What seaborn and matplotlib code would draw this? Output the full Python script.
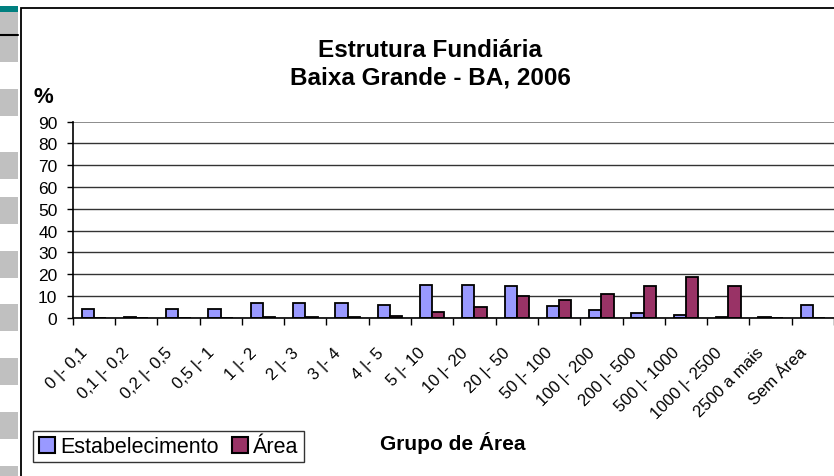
import pandas as pd
import matplotlib.pyplot as plt
import matplotlib.transforms as mtransforms
import seaborn as sns
from matplotlib.patches import Rectangle
from matplotlib.lines import Line2D


grupos = ['0 |- 0,1', '0,1 |- 0,2', '0,2 |- 0,5', '0,5 |- 1', '1 |- 2', '2 |- 3',
          '3 |- 4', '4 |- 5', '5 |- 10', '10 |- 20', '20 |- 50', '50 |- 100',
          '100 |- 200', '200 |- 500', '500 |- 1000', '1000 |- 2500',
          '2500 a mais', 'Sem Área']
estabelecimento = [3.9, 0.2, 3.9, 4.1, 6.6, 6.6, 6.6, 5.7, 14.8, 15.0, 14.7, 5.2,
                   3.7, 2.3, 1.2, 0.5, 0.1, 5.7]
area = [0.0, 0.0, 0.0, 0.0, 0.3, 0.3, 0.3, 0.8, 2.4, 4.7, 9.9, 8.1,
        11.0, 14.7, 18.8, 14.7, 0.0, 0.0]
series = ['Estabelecimento', 'Área']
cores = ['#9999FF', '#993366']
yticks = [0, 10, 20, 30, 40, 50, 60, 70, 80, 90]

df = pd.DataFrame({
    'grupo': grupos * 2,
    'pct': estabelecimento + area,
    'serie': [series[0]] * len(grupos) + [series[1]] * len(grupos),
})

sns.set_style('white')
plt.rcParams['font.family'] = ['Liberation Sans', 'DejaVu Sans']
plt.rcParams['text.color'] = 'black'
plt.rcParams['xtick.color'] = 'black'
plt.rcParams['ytick.color'] = 'black'

fig = plt.figure(figsize=(8.34, 4.77), dpi=100)
ax = fig.add_axes([72.7 / 834, 1 - 318.7 / 477, 1 - 72.7 / 834, (318.7 - 122.7) / 477])

sns.barplot(data=df, x='grupo', y='pct', hue='serie', hue_order=series,
            palette=cores, width=0.58, edgecolor='black', linewidth=1.3,
            saturation=1, ax=ax, legend=False)

ax.set_ylim(0, 90)
ax.set_xlim(-0.5, len(grupos) - 0.5)
ax.set_yticks(yticks)
ax.yaxis.grid(True, color='#333333', linewidth=1)
ax.set_axisbelow(True)
ax.get_ygridlines()[-1].set_color('#8c8c8c')
ax.get_ygridlines()[-1].set_linewidth(1.4)
for s in ['top', 'right']:
    ax.spines[s].set_visible(False)
for s in ['left', 'bottom']:
    ax.spines[s].set_color('black')
    ax.spines[s].set_linewidth(1.2)

ax.set_xlabel('')
ax.set_ylabel('')
ax.tick_params(axis='y', left=True, length=4, width=1, color='black',
               labelsize=12.5, pad=7, labelcolor='black')
ax.set_xticks(range(len(grupos)))
ax.set_xticklabels(grupos, rotation=45, ha='right', va='center',
                   rotation_mode='anchor', fontsize=12, color='black')
ax.tick_params(axis='x', bottom=False, length=0, pad=23)
ax.set_xticks([i - 0.5 for i in range(len(grupos) + 1)], minor=True)
ax.tick_params(axis='x', which='minor', bottom=True, length=5, width=1, color='black')
desloc = mtransforms.ScaledTranslation(-0.09, 0, fig.dpi_scale_trans)
for lab in ax.get_xticklabels():
    lab.set_transform(lab.get_transform() + desloc)

# titulos
fig.text(430.5 / 834, 1 - 57.3 / 477, 'Estrutura Fundiária', ha='center',
         va='baseline', fontsize=17.5, fontweight='bold', color='black')
fig.text(430.5 / 834, 1 - 85 / 477, 'Baixa Grande - BA, 2006', ha='center',
         va='baseline', fontsize=17.5, fontweight='bold', color='black')
fig.text(33 / 834, 1 - 103 / 477, '%', ha='left', va='baseline',
         fontsize=16, fontweight='bold', color='black')
fig.text(453 / 834, 1 - 450 / 477, 'Grupo de Área', ha='center',
         va='baseline', fontsize=15, fontweight='bold', color='black')

handles = [Line2D([], [], marker='s', linestyle='', markersize=11,
                  markerfacecolor=c, markeredgecolor='black', markeredgewidth=1.5)
           for c in cores]
leg = fig.legend(handles, series, loc='upper left',
                 bbox_to_anchor=(33 / 834, 1 - 431.7 / 477), ncol=2,
                 fontsize=15.5, frameon=True, fancybox=False, handlelength=0.8,
                 handletextpad=0.2, columnspacing=0.6, borderpad=0.25,
                 borderaxespad=0, labelcolor='black')
leg.get_frame().set_edgecolor('black')
leg.get_frame().set_linewidth(1)

# moldura do grafico e faixa lateral
fig.add_artist(Rectangle((20.7 / 834, -0.1), 2, 1 - 9 / 477 + 0.1,
                         transform=fig.transFigure, fill=False,
                         edgecolor='black', linewidth=1.3))
fig.add_artist(Rectangle((0, 1 - 13 / 477), 18 / 834, 6 / 477,
                         transform=fig.transFigure, color='#008080', lw=0))
for y0, y1 in [(13, 63), (90, 117), (153, 180), (198, 225), (252, 279),
               (305, 332), (359, 386), (413, 440), (467, 480)]:
    fig.add_artist(Rectangle((0, 1 - y1 / 477), 18 / 834, (y1 - y0) / 477,
                             transform=fig.transFigure, color='#C0C0C0', lw=0))
fig.add_artist(Line2D([0, 18 / 834], [1 - 36 / 477, 1 - 36 / 477],
                      transform=fig.transFigure, color='black', linewidth=1.5))

fig.savefig('out.png', dpi=100)
